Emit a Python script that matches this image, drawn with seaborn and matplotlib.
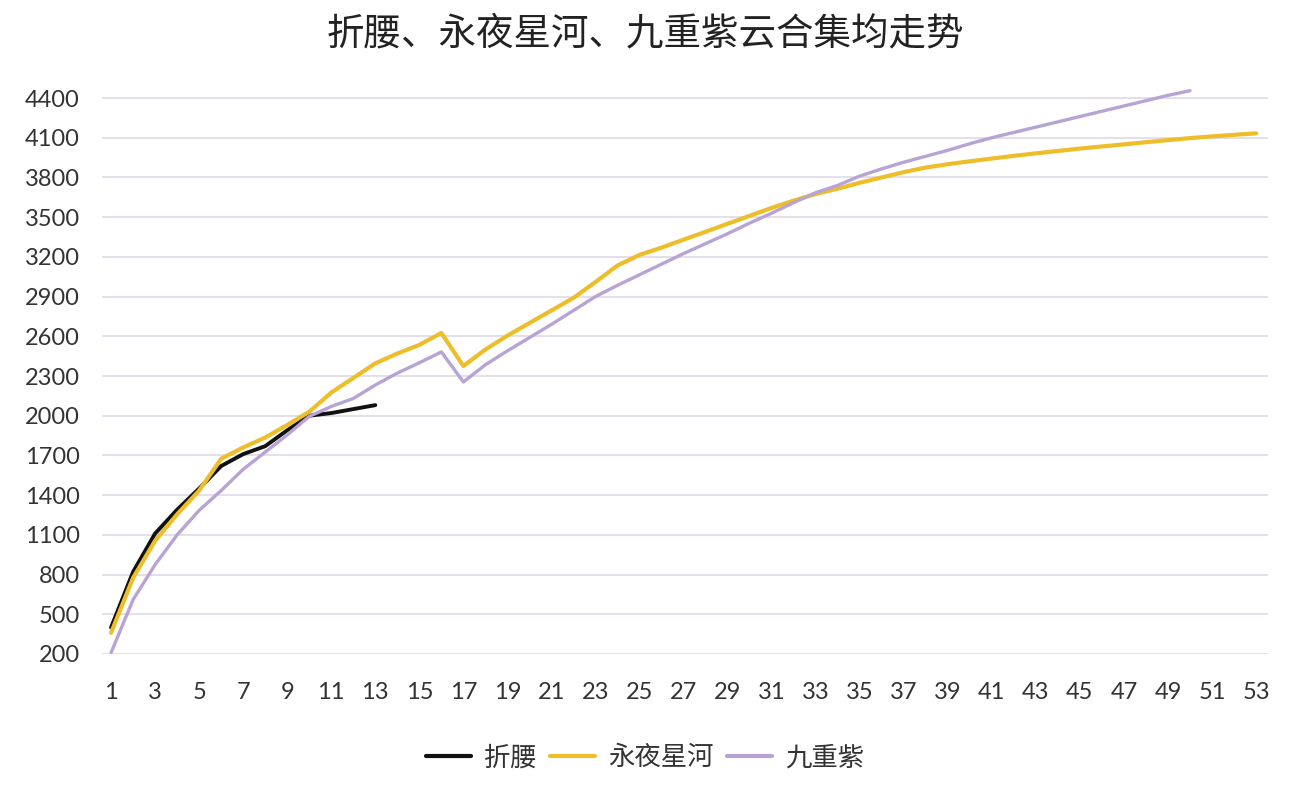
import numpy as np
import pandas as pd
import matplotlib
matplotlib.use("Agg")
import matplotlib.pyplot as plt
import seaborn as sns

# 集数
zheyao_ep = list(range(1, 14))
yongye_ep = list(range(1, 54))
jiuchong_ep = list(range(1, 51))

# 集均值
zheyao = [400, 820, 1110, 1290, 1450, 1620, 1710, 1770, 1890, 2000, 2020, 2050, 2080]

yongye = [360, 775, 1055, 1255, 1435, 1675, 1760, 1835, 1930, 2030,
          2175, 2285, 2395, 2470, 2535, 2625, 2375, 2500, 2605, 2700,
          2795, 2890, 3010, 3135, 3215, 3270, 3330, 3390, 3450, 3510,
          3570, 3625, 3675, 3715, 3760, 3800, 3840, 3875, 3900, 3922,
          3943, 3963, 3982, 4000, 4018, 4034, 4050, 4066, 4082, 4097,
          4110, 4122, 4133]

jiuchong = [210, 610, 875, 1100, 1285, 1435, 1595, 1725, 1855, 1995,
            2070, 2130, 2232, 2322, 2400, 2482, 2255, 2385, 2490, 2590,
            2690, 2795, 2900, 2985, 3065, 3145, 3225, 3300, 3375, 3455,
            3530, 3610, 3685, 3740, 3810, 3865, 3915, 3960, 4005, 4055,
            4100, 4140, 4180, 4220, 4260, 4300, 4340, 4380, 4420, 4455]

names = ["折腰", "永夜星河", "九重紫"]
colors = ["#111111", "#EDBE2A", "#B7A4D4"]
y_ticks = list(range(200, 4401, 300))
x_ticks = list(range(1, 54, 2))

df = pd.concat([
    pd.DataFrame({"集数": zheyao_ep, "值": zheyao, "剧": names[0]}),
    pd.DataFrame({"集数": yongye_ep, "值": yongye, "剧": names[1]}),
    pd.DataFrame({"集数": jiuchong_ep, "值": jiuchong, "剧": names[2]}),
])

sns.set_style("white")
plt.rcParams["font.family"] = ["Noto Sans CJK SC", "DejaVu Sans"]

fig = plt.figure(figsize=(12.9, 7.87), dpi=100)
ax = fig.add_axes([0.0791, 0.169, 0.904, 0.7401])

ax.yaxis.grid(True, color="#E2DCE8", linewidth=1.3)
ax.set_axisbelow(True)

sns.lineplot(data=df, x="集数", y="值", hue="剧", hue_order=names,
             palette=dict(zip(names, colors)), ax=ax, legend=False)
widths = [2.8, 3.0, 2.4]
for line, lw in zip(ax.get_lines(), widths):
    line.set_linewidth(lw)

ax.set_xlim(0.59, 53.55)
ax.set_ylim(200, 4600)
ax.set_xticks(x_ticks)
ax.set_yticks(y_ticks)
ax.tick_params(axis="both", length=0, labelsize=17, colors="#333333")
ax.tick_params(axis="y", pad=16)
ax.tick_params(axis="x", pad=20)
for lbl in ax.get_xticklabels() + ax.get_yticklabels():
    lbl.set_family(["Lato", "DejaVu Sans"])
ax.set_xlabel("")
ax.set_ylabel("")
for s in ax.spines.values():
    s.set_visible(False)

fig.suptitle("折腰、永夜星河、九重紫云合集均走势", fontsize=27, color="#222222",
             y=0.957, va="center")

handles = [plt.Line2D([], [], color=c, lw=3) for c in colors]
fig.legend(handles, names, loc="center", bbox_to_anchor=(0.5, 0.037),
           ncol=3, frameon=False, fontsize=19, handlelength=1.7,
           handletextpad=0.5, columnspacing=0.5, labelcolor="#333333")

fig.savefig("out.png", dpi=100, facecolor="white")
